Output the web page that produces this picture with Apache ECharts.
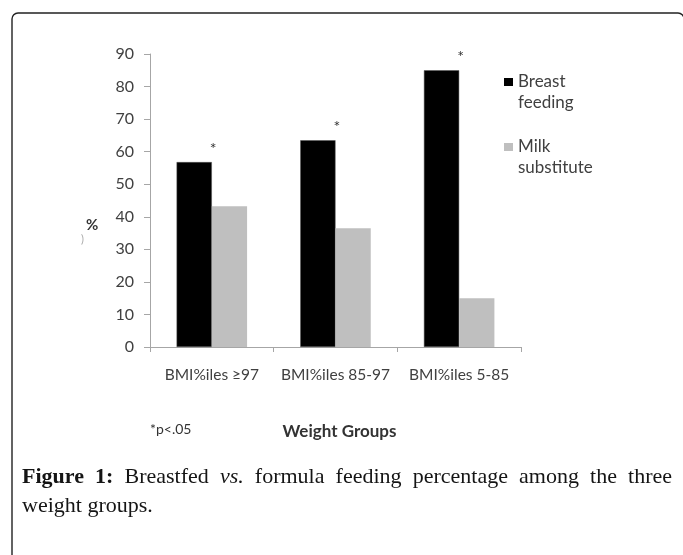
<!DOCTYPE html>
<html>
<head>
<meta charset="utf-8">
<script src="https://cdn.jsdelivr.net/npm/echarts@6/dist/echarts.min.js"></script>
<style>
  html, body { margin: 0; padding: 0; background: #fff; overflow: hidden; }
  #wrap { position: relative; width: 683px; height: 555px; }
  #main { width: 683px; height: 555px; }
  .caption {
    position: absolute; left: 22px; width: 650px;
    font-family: "Liberation Serif", "DejaVu Serif", serif;
    font-size: 22px; line-height: 29px; color: #151515;
    white-space: nowrap;
  }
  .caption.first { top: 461px; text-align: justify; text-align-last: justify; white-space: normal; }
  .caption.second { top: 490px; }
  .caption b { font-weight: bold; }
</style>
</head>
<body>
<div id="wrap">
  <div id="main"></div>
  <div class="caption first"><b>Figure 1:</b> Breastfed <i>vs.</i> formula feeding percentage among the three</div>
  <div class="caption second">weight groups.</div>
</div>
<script>
// data
var groups = ['BMI%iles \u226597', 'BMI%iles 85-97', 'BMI%iles 5-85'];
var breastFeeding = [56.8, 63.5, 85.0];
var milkSubstitute = [43.2, 36.5, 15.0];
var significance = ['*', '*', '*'];
var yTicks = { min: 0, max: 90, step: 10 };

var labelFont = 'Lato, "Open Sans", "Liberation Sans", sans-serif';
var axisGray = '#a6a6a6';

// legend swatch sits next to the first line of a two-line name
var swatch = 'path://M0,7L9,7L9,15L0,15Z M0,42L0.01,42L0.01,42.01Z M0,0L0.01,0L0.01,0.01Z';

var myChart = echarts.init(document.getElementById('main'));
var option = {
    animation: false,
    backgroundColor: '#fff',
    textStyle: { fontFamily: labelFont },
    grid: { left: 150, right: 162, top: 54, bottom: 208 },
    legend: {
        orient: 'vertical',
        left: 499,
        top: 66,
        itemWidth: 9,
        itemHeight: 42,
        itemGap: 23,
        icon: swatch,
        itemStyle: { borderWidth: 0 },
        formatter: function (name) { return name.replace(' ', '\n'); },
        textStyle: { fontSize: 17, color: '#404040', lineHeight: 21, fontFamily: labelFont },
        data: ['Breast feeding', 'Milk substitute']
    },
    xAxis: {
        type: 'category',
        data: groups,
        axisLine: { lineStyle: { color: axisGray, width: 1 } },
        axisTick: { show: true, length: 5, lineStyle: { color: axisGray } },
        axisLabel: { color: '#404040', fontSize: 15.5, margin: 20, fontFamily: labelFont, interval: 0 },
        name: 'Weight Groups',
        nameLocation: 'middle',
        nameGap: 76,
        nameTextStyle: { fontWeight: 'bold', fontSize: 17, color: '#333', fontFamily: labelFont, padding: [0, 0, 0, 8] }
    },
    yAxis: {
        type: 'value',
        min: yTicks.min,
        max: yTicks.max,
        interval: yTicks.step,
        splitLine: { show: false },
        axisLine: { show: true, lineStyle: { color: axisGray, width: 1 } },
        axisTick: { show: true, length: 6, lineStyle: { color: axisGray } },
        axisLabel: { color: '#404040', fontSize: 16, margin: 16, fontFamily: labelFont }
    },
    series: [
        {
            name: 'Breast feeding',
            type: 'bar',
            data: breastFeeding,
            barGap: '0%',
            barCategoryGap: '43%',
            itemStyle: { color: '#000', borderColor: '#555', borderWidth: 0.5 },
            label: {
                show: true,
                position: 'top',
                distance: 5,
                offset: [19, 0],
                formatter: function (p) { return significance[p.dataIndex]; },
                color: '#333',
                fontSize: 16
            }
        },
        {
            name: 'Milk substitute',
            type: 'bar',
            data: milkSubstitute,
            itemStyle: { color: '#bfbfbf' }
        }
    ],
    graphic: [
        {
            type: 'rect',
            shape: { x: 12, y: 13, width: 672, height: 560, r: 6 },
            style: { fill: 'none', stroke: '#222', lineWidth: 1.4 },
            silent: true
        },
        {
            type: 'text',
            left: 86, top: 218,
            style: { text: '%', fontSize: 15, fontWeight: 'bold', fill: '#333', fontFamily: labelFont }
        },
        {
            type: 'text',
            left: 81, top: 234,
            style: { text: ')', fontSize: 11, fill: '#aaa', fontFamily: labelFont }
        },
        {
            type: 'text',
            left: 150, top: 422,
            style: { text: '*p<.05', fontSize: 14, fill: '#333', fontFamily: labelFont }
        }
    ]
};
myChart.setOption(option);
</script>
</body>
</html>
